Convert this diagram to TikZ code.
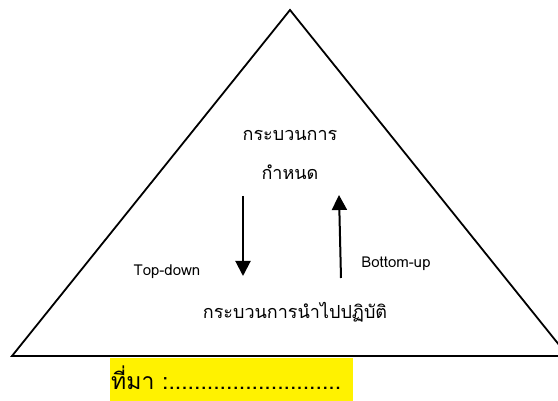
\documentclass[tikz,border=0pt]{standalone}
\usepackage{fontspec}
\newfontfamily\thaifont[Script=Thai]{Loma}
\usetikzlibrary{arrows.meta}
\begin{document}
\begin{tikzpicture}[x=1pt,y=-1pt,
  tri/.style={line width=1.8pt,line join=miter},
  arr/.style={line width=2pt,-{Triangle[length=15pt,width=15pt]}},
  thaitext/.style={font=\thaifont\fontsize{18}{21}\selectfont,inner sep=0pt},
  latintext/.style={font=\thaifont\fontsize{15}{18}\selectfont,inner sep=0pt}]
\useasboundingbox (0,0) rectangle (558,401);
\clip (0,0) rectangle (558,401);
\coordinate (apex) at (290,10);
\coordinate (bl) at (12,356);
\coordinate (br) at (568,356);
\draw[tri] (br) -- (apex) -- (bl) -- (br);
\node[thaitext] (t1) at (290,135) {กระบวนการ};
\node[thaitext] (t2) at (290,172) {กำหนด};
\coordinate (d1) at (243,196);
\coordinate (d2) at (243,276);
\coordinate (u1) at (341,278);
\coordinate (u2) at (339,195);
\draw[arr] (d1) -- (d2);
\draw[arr] (u1) -- (u2);
\node[latintext] (td) at (167,272) {Top-down};
\node[latintext] (bu) at (396,264) {Bottom-up};
\node[thaitext] (t3) at (295,312) {กระบวนการนำไปปฏิบัติ};
\fill[yellow] (110,358) rectangle (353,401);
\node[font=\thaifont\fontsize{23}{27}\selectfont,anchor=base west,inner sep=0pt] (src) at (111,389) {ที่มา :...........................};
\end{tikzpicture}
\end{document}
